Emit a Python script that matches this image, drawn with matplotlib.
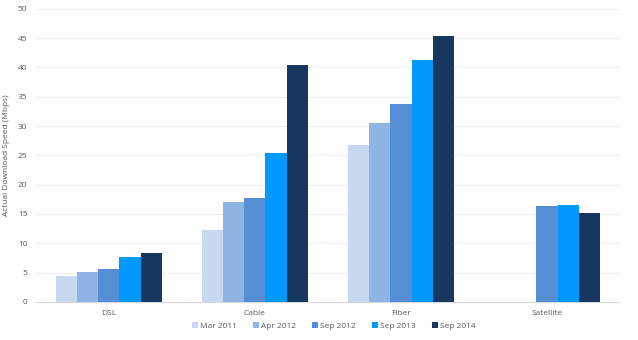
import numpy as np
import matplotlib
matplotlib.use("Agg")
import matplotlib.pyplot as plt

categories = ["DSL", "Cable", "Fiber", "Satellite"]
series_names = ["Mar 2011", "Apr 2012", "Sep 2012", "Sep 2013", "Sep 2014"]
mar_2011 = [4.5, 12.2, 26.8, np.nan]
apr_2012 = [5.1, 17.1, 30.5, np.nan]
sep_2012 = [5.6, 17.7, 33.8, 16.4]
sep_2013 = [7.6, 25.4, 41.3, 16.6]
sep_2014 = [8.4, 40.4, 45.4, 15.1]
series = [mar_2011, apr_2012, sep_2012, sep_2013, sep_2014]
colors = ["#C6D9F1", "#8DB4E2", "#558ED5", "#0099FF", "#17375E"]

plt.rcParams['font.family'] = ['Open Sans', 'DejaVu Sans']

fig = plt.figure(figsize=(6.38, 3.4), dpi=100)
ax = fig.add_axes([0.056, 0.112, 0.916, 0.862])

x = np.arange(len(categories))
w = 0.145
for i, (name, vals, c) in enumerate(zip(series_names, series, colors)):
    ax.bar(x + (i - 2) * w, vals, w, color=c, label=name, zorder=3)

ax.set_xlim(-0.5, 3.5)
ax.set_ylim(0, 50)
ax.set_yticks(range(0, 51, 5))
ax.set_xticks(x)
ax.set_xticklabels(categories)
ax.grid(axis="y", color="#EEEEEE", linewidth=0.8, zorder=0)
for s in ["top", "right", "left"]:
    ax.spines[s].set_visible(False)
ax.spines["bottom"].set_color("#D9D9D9")
ax.tick_params(length=0, labelsize=6, colors="#595959", pad=6)
ax.set_ylabel("Actual Download Speed (Mbps)", fontsize=6, color="#595959", labelpad=6)

ax.legend(loc="center", bbox_to_anchor=(0.51, -0.082), ncol=5, frameon=False,
          fontsize=6, handlelength=0.7, handleheight=0.7, handletextpad=0.3,
          columnspacing=1.9, labelcolor="#595959")

fig.savefig("out.png", dpi=100)
